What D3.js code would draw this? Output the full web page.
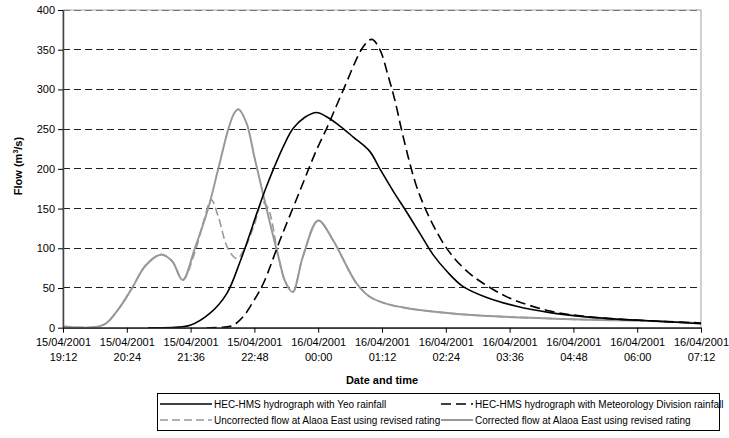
<!DOCTYPE html>
<html><head><meta charset="utf-8">
<script src="https://cdn.jsdelivr.net/npm/d3@7"></script>
<style>
body{margin:0;background:#fff}
svg text{font-family:"Liberation Sans",Arial,sans-serif;fill:#000}
</style>
</head><body>
<svg id="chart" width="729" height="438"></svg>
<script>
// ---- data (time in hours from 15/04/2001 00:00) ----
const tickHours = [19.2, 20.4, 21.6, 22.8, 24.0, 25.2, 26.4, 27.6, 28.8, 30.0, 31.2];
const tickDates = ["15/04/2001","15/04/2001","15/04/2001","15/04/2001","16/04/2001","16/04/2001","16/04/2001","16/04/2001","16/04/2001","16/04/2001","16/04/2001"];
const tickTimes = ["19:12","20:24","21:36","22:48","00:00","01:12","02:24","03:36","04:48","06:00","07:12"];
const yTicks = [0, 50, 100, 150, 200, 250, 300, 350, 400];

const yeoTime = [20.8, 21.31, 21.59, 21.96, 22.28, 22.53, 22.7, 22.84, 23.0, 23.16, 23.35, 23.53, 23.75, 23.97, 24.15, 24.35, 24.66, 24.97, 25.16, 25.41, 25.66, 25.91, 26.16, 26.42, 26.72, 27.17, 27.73, 28.36, 28.99, 29.68, 30.43, 31.2];
const yeoFlow = [0, 0.5, 3, 18, 43, 83, 115, 143, 173, 200, 229, 251, 265, 271, 266, 257, 240, 222, 200, 172, 146, 119, 92, 71, 52, 38, 27, 19, 14, 10.5, 8, 5];

const metTime = [21.9, 22.21, 22.4, 22.59, 22.78, 22.97, 23.28, 23.66, 23.97, 24.16, 24.47, 24.85, 25.01, 25.16, 25.32, 25.44, 25.6, 25.83, 26.04, 26.32, 26.54, 26.85, 27.1, 27.61, 28.36, 29.05, 29.93, 31.2];
const metFlow = [0, 0.5, 3, 14, 33, 56, 110, 173, 224, 251, 299, 354, 363, 350, 316, 287, 240, 182, 146, 110, 89, 68, 56, 37, 21, 14, 9.7, 6];

const uncTime = [19.2, 19.5, 19.75, 20.0, 20.25, 20.5, 20.75, 21.04, 21.25, 21.45, 21.68, 21.85, 21.99, 22.12, 22.3, 22.47, 22.62, 22.8, 22.95, 23.06, 23.25, 23.38, 23.52, 23.71, 24.0, 24.28, 24.41, 24.72, 24.97, 25.29, 25.73, 26.35, 26.67, 27.42, 28.0, 28.79, 29.5, 29.99, 30.6, 31.2];
const uncFlow = [1.5, 0.3, 0.5, 5, 24, 50, 78, 92, 84, 60, 95, 135, 161, 140, 100, 87, 100, 130, 158, 150, 90, 58, 45, 89, 135, 110, 94, 56, 39, 30, 24, 19, 17, 14, 12.5, 10.5, 9.5, 9, 7.5, 5.5];

const corTime = [19.2, 19.5, 19.75, 20.0, 20.25, 20.5, 20.75, 21.04, 21.25, 21.45, 21.68, 21.93, 22.12, 22.31, 22.42, 22.5, 22.65, 22.8, 22.95, 23.1, 23.25, 23.38, 23.52, 23.71, 24.0, 24.28, 24.41, 24.72, 24.97, 25.29, 25.73, 26.35, 26.67, 27.42, 28.0, 28.79, 29.5, 29.99, 30.6, 31.2];
const corFlow = [1.5, 0.3, 0.5, 5, 24, 50, 78, 92, 84, 60, 100, 150, 200, 250, 270, 275, 258, 215, 172, 130, 90, 58, 45, 89, 135, 110, 94, 56, 39, 30, 24, 19, 17, 14, 12.5, 10.5, 9.5, 9, 7.5, 5.5];

const seriesNames = [
  "HEC-HMS hydrograph with Yeo rainfall",
  "HEC-HMS hydrograph with Meteorology Division rainfall",
  "Uncorrected flow at Alaoa East using revised rating",
  "Corrected flow at Alaoa East using revised rating"
];

// ---- build ----
const series = [
  {name: seriesNames[0], t: yeoTime, v: yeoFlow, color: "#000", width: 1.6, dash: null},
  {name: seriesNames[1], t: metTime, v: metFlow, color: "#000", width: 1.6, dash: "10,5"},
  {name: seriesNames[2], t: uncTime, v: uncFlow, color: "#999", width: 1.6, dash: "8,4"},
  {name: seriesNames[3], t: corTime, v: corFlow, color: "#999", width: 2, dash: null}
];

const svg = d3.select("#chart");
const L = 63, R = 701, T = 10, B = 327.7;
const x = d3.scaleLinear().domain([tickHours[0], tickHours[tickHours.length-1]]).range([L, R]);
const y = d3.scaleLinear().domain([0, 400]).range([B, T]);

svg.append("rect").attr("x", L).attr("y", T).attr("width", R - L).attr("height", B - T)
  .attr("fill", "#fff").attr("stroke", "#a0a0a0").attr("stroke-width", 1);

svg.append("g").selectAll("line").data(yTicks.filter(d => d > 0)).join("line")
  .attr("x1", L).attr("x2", R).attr("y1", d => y(d)).attr("y2", d => y(d))
  .attr("stroke", d => d === 400 ? "#777" : "#222").attr("stroke-width", 1)
  .attr("stroke-dasharray", "7,4").attr("shape-rendering", "crispEdges");

svg.append("clipPath").attr("id", "pc").append("rect")
  .attr("x", L).attr("y", T - 2).attr("width", R - L).attr("height", B - T + 2);
const line = d3.line().x(d => x(d[0])).y(d => y(d[1])).curve(d3.curveCatmullRom.alpha(0.5));
const gLines = svg.append("g").attr("clip-path", "url(#pc)");
[3, 2, 0, 1].forEach(i => {
  const s = series[i];
  gLines.append("path").datum(s.t.map((t, j) => [t, s.v[j]]))
    .attr("d", line).attr("fill", "none").attr("stroke", s.color)
    .attr("stroke-width", s.width).attr("stroke-dasharray", s.dash)
    .attr("stroke-linejoin", "round");
});

const yAxis = d3.axisLeft(y).tickValues(yTicks).tickSize(5).tickSizeOuter(0).tickPadding(3);
const gy = svg.append("g").attr("transform", `translate(${L},0)`).call(yAxis);
gy.select(".domain").attr("stroke", "#444").attr("stroke-width", 1.5);
gy.selectAll(".tick line").attr("stroke", "#000");
gy.selectAll(".tick text").attr("font-size", 11).attr("font-family", "Liberation Sans, Arial, sans-serif").attr("fill", "#000");

const xAxis = d3.axisBottom(x).tickValues(tickHours).tickSize(5).tickSizeOuter(0).tickFormat("");
const gx = svg.append("g").attr("transform", `translate(0,${B})`).call(xAxis);
gx.select(".domain").attr("stroke", "#000").attr("stroke-width", 1.2);
gx.selectAll(".tick line").attr("stroke", "#000");
gx.selectAll(".tick").each(function(d, i) {
  const t = d3.select(this).append("text").attr("text-anchor", "middle")
    .attr("font-size", 11).attr("fill", "#000");
  t.append("tspan").attr("x", 0).attr("y", 18).text(tickDates[i]);
  t.append("tspan").attr("x", 0).attr("y", 33).text(tickTimes[i]);
});

svg.append("text").attr("x", (L + R) / 2).attr("y", 384).attr("text-anchor", "middle")
  .attr("font-size", 11).attr("font-weight", "bold").text("Date and time");
const yt = svg.append("text").attr("transform", "translate(22,166) rotate(-90)")
  .attr("text-anchor", "middle").attr("font-size", 11).attr("font-weight", "bold");
yt.append("tspan").text("Flow (m");
yt.append("tspan").attr("font-size", 7).attr("dy", -4).text("3");
yt.append("tspan").attr("dy", 4).text("/s)");

const lg = svg.append("g");
lg.append("rect").attr("x", 157.5).attr("y", 393.5).attr("width", 562).attr("height", 37)
  .attr("fill", "#fff").attr("stroke", "#000").attr("stroke-width", 1);
const legendPos = [[160, 404, 52], [441, 404, 32], [160, 420, 52], [441, 420, 32]];
series.forEach((s, i) => {
  const [lx, ly, sw] = legendPos[i];
  lg.append("line").attr("x1", lx).attr("x2", lx + sw).attr("y1", ly).attr("y2", ly)
    .attr("stroke", s.color).attr("stroke-width", s.width).attr("stroke-dasharray", s.dash);
  lg.append("text").attr("x", lx + sw + 2).attr("y", ly + 3.5).attr("font-size", 10).text(s.name);
});
</script>
</body></html>
